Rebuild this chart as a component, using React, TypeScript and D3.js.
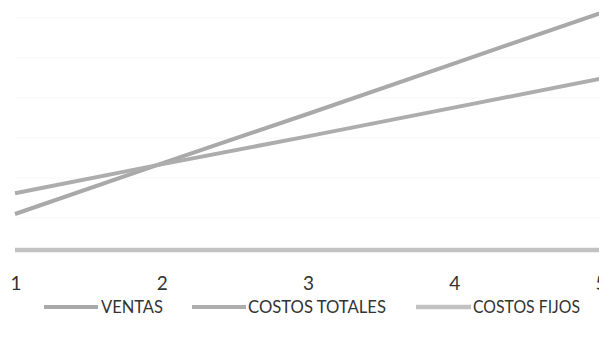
import React from "react";
import * as d3 from "d3";

const categories = [1, 2, 3, 4, 5];
const ventas = [55, 118, 180, 243, 306];
const costosTotales = [81, 117, 152, 188, 224];
const costosFijos = [10, 10, 10, 10, 10];
const gridValues = [50, 100, 150, 200, 250, 300];
const seriesNames = ["VENTAS", "COSTOS TOTALES", "COSTOS FIJOS"];

const W = 599;
const H = 345;

export default function App() {
  const x = d3.scaleLinear().domain([1, 5]).range([15, 600]);
  const y = d3.scaleLinear().domain([0, 100]).range([258, 178]);
  const line = d3
    .line<number>()
    .x((_, i) => x(categories[i]))
    .y((d) => y(d));

  const series = [
    { name: seriesNames[0], data: ventas, color: "#a9a9a9", w: 4 },
    { name: seriesNames[1], data: costosTotales, color: "#adadad", w: 4 },
    { name: seriesNames[2], data: costosFijos, color: "#c2c2c2", w: 4.5 },
  ];

  const legend = [
    { x1: 44, x2: 98, tx: 101 },
    { x1: 192, x2: 246, tx: 248 },
    { x1: 416, x2: 471, tx: 473 },
  ];

  return (
    <svg
      width={W}
      height={H}
      style={{ position: "absolute", left: 0, top: 0, background: "#fff" }}
      fontFamily="Lato, 'Open Sans', sans-serif"
    >
      {gridValues.map((g) => (
        <line
          key={g}
          x1={15}
          x2={W}
          y1={y(g)}
          y2={y(g)}
          stroke="#f7f7f7"
          strokeWidth={1}
        />
      ))}
      {series.map((s) => (
        <path
          key={s.name}
          d={line(s.data) || ""}
          fill="none"
          stroke={s.color}
          strokeWidth={s.w}
          strokeLinecap="butt"
        />
      ))}
      {categories.map((c) => (
        <text
          key={c}
          x={x(c) + 1}
          y={290}
          textAnchor="middle"
          fontSize={19}
          fill="#333"
        >
          {c}
        </text>
      ))}
      {series.map((s, i) => (
        <g key={s.name}>
          <line
            x1={legend[i].x1}
            x2={legend[i].x2}
            y1={307}
            y2={307}
            stroke={s.color}
            strokeWidth={s.w}
          />
          <text
            x={legend[i].tx}
            y={313}
            fontSize={16.5}
            fill="#333"
            textLength={[62, 138, 107][i]}
            lengthAdjust="spacingAndGlyphs"
          >
            {s.name}
          </text>
        </g>
      ))}
    </svg>
  );
}
